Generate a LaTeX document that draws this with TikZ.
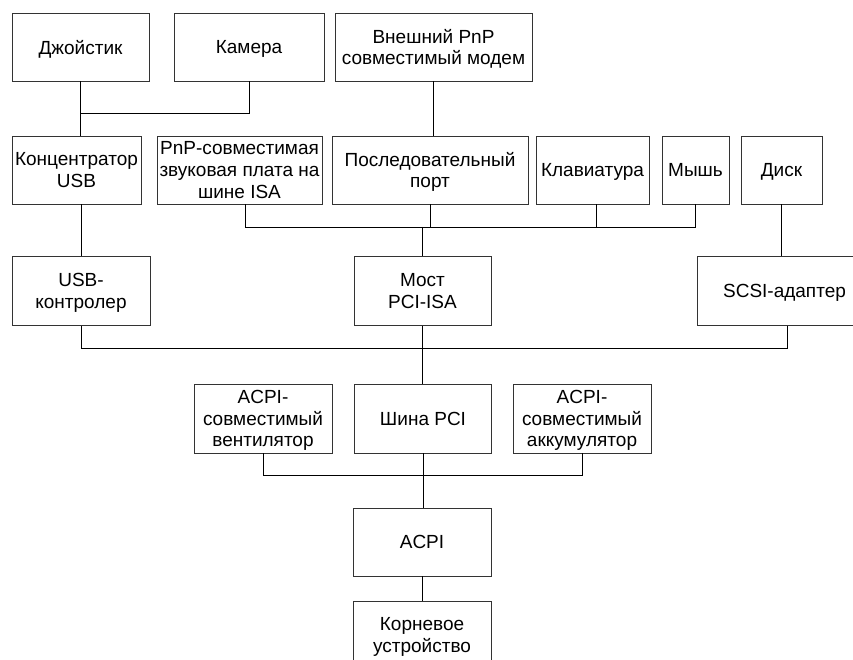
\documentclass[tikz,border=0pt]{standalone}
\usepackage{fontspec}
\setmainfont{Liberation Sans}
\begin{document}
\begin{tikzpicture}[x=1pt,y=-1pt,
  box/.style={draw=black!80, line width=0.8pt, inner sep=0pt, align=center,
    minimum height=68pt, text depth=0pt, font=\fontsize{19}{21.7}\selectfont},
  wire/.style={draw=black, line width=0.8pt}]
\clip (0,0) rectangle (853,660);

% top row
\node[box, minimum width=137pt] (joy)   at (80.5,47)  {Джойстик};
\node[box, minimum width=150pt] (cam)   at (249,47)   {Камера};
\node[box, minimum width=197pt] (modem) at (433.5,47) {Внешний PnP\\совместимый модем};

% devices row
\node[box, minimum width=129pt] (hub)    at (76.5,170)  {Концентратор\\USB};
\node[box, minimum width=165pt] (sound)  at (239.5,170) {PnP-совместимая\\звуковая плата на\\шине ISA};
\node[box, minimum width=196pt] (serial) at (430,170)   {Последовательный\\порт};
\node[box, minimum width=113pt] (kbd)    at (592.5,170) {Клавиатура};
\node[box, minimum width=67pt]  (mouse)  at (695.5,170) {Мышь};
\node[box, minimum width=81pt]  (disk)   at (781.5,170) {Диск};

% controllers row
\node[box, minimum width=138pt, minimum height=69pt] (usbc)   at (81,291)    {USB-\\контролер};
\node[box, minimum width=137pt, minimum height=69pt] (bridge) at (422.5,291) {Мост\\PCI-ISA};
\node[box, minimum width=175pt, minimum height=69pt] (scsi)   at (784.5,291) {SCSI-адаптер};

% PCI row
\node[box, minimum width=138pt, minimum height=69pt] (fan) at (263,418.5)   {ACPI-\\совместимый\\вентилятор};
\node[box, minimum width=137pt, minimum height=69pt] (pci) at (423,418.5)   {Шина PCI};
\node[box, minimum width=138pt, minimum height=69pt] (bat) at (582,418.5)   {ACPI-\\совместимый\\аккумулятор};

% root chain
\node[box, minimum width=138pt] (acpi) at (422,542) {ACPI};
\node[box, minimum width=138pt] (root) at (422,635) {Корневое\\устройство};

% bus junctions
\coordinate (j1) at (80.5,113);
\coordinate (b1) at (422,227);
\coordinate (b2) at (422,348);
\coordinate (b3) at (422,475);

% USB hub branch
\draw[wire] (cam.south) |- (j1);
\draw[wire] (joy.south) -- (joy.south |- hub.north);
\draw[wire] (usbc.north |- hub.south) -- (usbc.north);

% modem to serial port
\draw[wire] (modem.south) -- (modem.south |- serial.north);

% ISA bus
\draw[wire] ([xshift=5.5pt]sound.south) |- (mouse.south |- b1) -- (mouse.south);
\draw[wire] (serial.south) -- (serial.south |- b1);
\draw[wire] ([xshift=3.5pt]kbd.south) -- ([xshift=3.5pt]kbd.south |- b1);
\draw[wire] (b1) -- (b1 |- bridge.north);

% disk to SCSI
\draw[wire] (disk.south) -- (disk.south |- scsi.north);

% PCI bus
\draw[wire] (usbc.south) |- ([xshift=2.5pt]scsi.south |- b2) -- ([xshift=2.5pt]scsi.south);
\draw[wire] (bridge.south) -- (bridge.south |- pci.north);

% ACPI level
\draw[wire] (fan.south) |- (bat.south |- b3) -- (bat.south);
\draw[wire] (pci.south) -- (pci.south |- acpi.north);
\draw[wire] (acpi.south) -- (acpi.south |- root.north);
\end{tikzpicture}
\end{document}
